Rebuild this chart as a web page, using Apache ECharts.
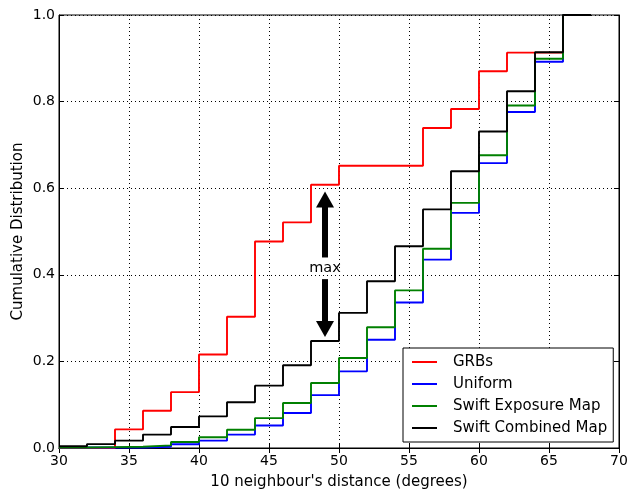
<!DOCTYPE html>
<html>
<head>
<meta charset="utf-8">
<script src="https://cdn.jsdelivr.net/npm/echarts@6/dist/echarts.min.js"></script>
<style>html,body{margin:0;padding:0;background:#fff;}#c{width:631px;height:491px;}</style>
</head>
<body>
<div id="c"></div>
<script>
var xs = [30,32,34,36,38,40,42,44,46,48,50,52,54,56,58,60,62,64,66,68];
var grbs = [0,0,0.043,0.086,0.129,0.216,0.303,0.477,0.521,0.608,0.652,0.652,0.652,0.739,0.783,0.870,0.913,0.913,1.0,1.0];
var uniform = [0.001,0.001,0.001,0.003,0.0085,0.017,0.031,0.052,0.081,0.122,0.177,0.250,0.336,0.435,0.543,0.658,0.776,0.892,1.0,1.0];
var exposure = [0.001,0.002,0.003,0.006,0.014,0.025,0.042,0.069,0.104,0.150,0.208,0.279,0.364,0.460,0.566,0.676,0.791,0.899,1.0,1.0];
var combined = [0.004,0.009,0.017,0.031,0.0485,0.073,0.1055,0.144,0.191,0.247,0.312,0.385,0.466,0.551,0.639,0.731,0.824,0.914,1.0,1.0];
var names = ['GRBs','Uniform','Swift Exposure Map','Swift Combined Map'];
var colors = ['#ff0000','#0000ff','#008000','#000000'];
var arrowX = 49;
var arrowUp = [0.440, 0.574];
var arrowDown = [0.390, 0.275];
var labelPos = [49, 0.415];

function pairs(v){ return xs.map(function(x,i){ return [x, v[i]]; }); }
var font = 'DejaVu Sans';
var chart = echarts.init(document.getElementById('c'));
var seriesVals = [grbs, uniform, exposure, combined];
var series = seriesVals.map(function(v,i){
  return {name:names[i], type:'line', step:'end', data:pairs(v), symbol:'none', showSymbol:false,
    lineStyle:{color:colors[i], width:1.9}, itemStyle:{color:colors[i]}, animation:false, z:2+i};
});
series.push({
  type:'scatter', data:[labelPos], symbolSize:0, animation:false, z:10,
  itemStyle:{opacity:1, color:'#000'},
  label:{show:true, formatter:'max', position:'inside', color:'#000', fontFamily:font, fontSize:14.5, opacity:1},
  markLine:{silent:true, animation:false, symbol:['none','triangle'], symbolSize:[18,16],
    lineStyle:{color:'#000', width:6, type:'solid', opacity:1}, label:{show:false},
    data:[
      [{coord:[arrowX, arrowUp[0]]},{coord:[arrowX, arrowUp[1]]}],
      [{coord:[arrowX, arrowDown[0]]},{coord:[arrowX, arrowDown[1]]}]
    ]}
});
var tickStyle = {inside:true, length:5, lineStyle:{color:'#000'}};
var split = {show:true, lineStyle:{color:'#000', type:[1,3], width:1}};
chart.setOption({
  animation:false,
  grid:{left:59, right:12, top:15, bottom:43, show:true, borderColor:'#000', borderWidth:1, containLabel:false, outerBoundsMode:'none'},
  legend:{data:names, orient:'vertical', left:403, top:348, icon:'rect',
    backgroundColor:'#fff', borderColor:'#000', borderWidth:1, padding:[6,6,6,9], itemGap:6,
    itemWidth:25, itemHeight:2, textStyle:{fontFamily:font, fontSize:15, color:'#000', padding:[0,0,0,11], lineHeight:16}},
  xAxis:[{type:'value', min:30, max:70, interval:5,
    name:"10 neighbour's distance (degrees)", nameLocation:'middle', nameGap:27, nameMoveOverlap:false,
    nameTextStyle:{fontFamily:font, fontSize:15, color:'#000'},
    axisLine:{show:true, lineStyle:{color:'#000'}}, axisTick:tickStyle,
    axisLabel:{fontFamily:font, fontSize:14, color:'#000', margin:6}, splitLine:split},
   {type:'value', position:'top', min:30, max:70, interval:5,
    axisLine:{show:true, lineStyle:{color:'#000'}}, axisTick:tickStyle, axisLabel:{show:false}, splitLine:{show:false}}],
  yAxis:[{type:'value', min:0, max:1, interval:0.2,
    name:'Cumulative Distribution', nameLocation:'middle', nameGap:33, nameRotate:90, nameMoveOverlap:false,
    nameTextStyle:{fontFamily:font, fontSize:15, color:'#000'},
    axisLine:{show:true, lineStyle:{color:'#000'}}, axisTick:tickStyle,
    axisLabel:{fontFamily:font, fontSize:14, color:'#000', margin:4, formatter:function(v){return v.toFixed(1);}},
    splitLine:split},
   {type:'value', position:'right', min:0, max:1, interval:0.2,
    axisLine:{show:true, lineStyle:{color:'#000'}}, axisTick:tickStyle, axisLabel:{show:false}, splitLine:{show:false}}],
  series:series
});
</script>
</body>
</html>
